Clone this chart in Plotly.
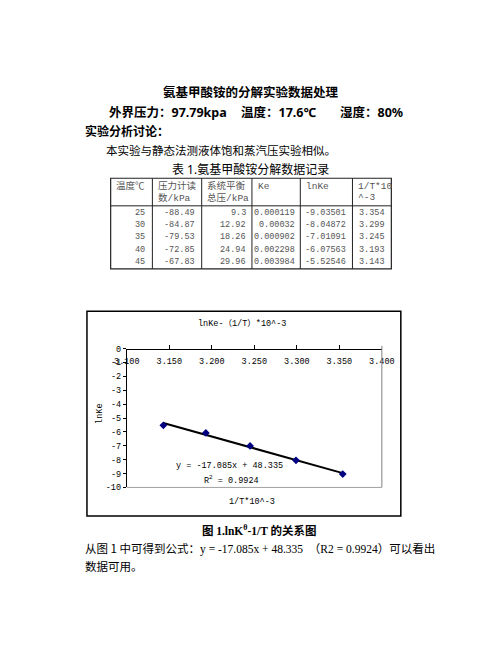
import plotly.graph_objects as go

W, H = 502, 649

# ---------------- data ----------------
temps_c = [25, 30, 35, 40, 45]
gauge_kpa = [-88.49, -84.87, -79.53, -72.85, -67.83]
total_kpa = [9.3, 12.92, 18.26, 24.94, 29.96]
ke = [0.000119, 0.00032, 0.000902, 0.002298, 0.003984]
ln_ke = [-9.03501, -8.04872, -7.01091, -6.07563, -5.52546]
inv_t = [3.354, 3.299, 3.245, 3.193, 3.143]
table_headers = [["温度℃"], ["压力计读", "数/kPa"], ["系统平衡", "总压/kPa"], ["Ke"], ["lnKe"], ["1/T*10", "^-3"]]
fit_slope = -17.085
fit_intercept = 48.335
fit_r2 = 0.9924
x_tick_vals = [3.100, 3.150, 3.200, 3.250, 3.300, 3.350, 3.400]
x_tick_text = ["3.100", "3.150", "3.200", "3.250", "3.300", "3.350", "3.400"]
y_tick_vals = [0, -1, -2, -3, -4, -5, -6, -7, -8, -9, -10]
y_tick_text = ["0", "-1", "-2", "-3", "-4", "-5", "-6", "-7", "-8", "-9", "-10"]


def px(x):
    return x / W


def py(y):
    return 1 - y / H


CJK = "Noto Sans, Noto Sans CJK SC"
CJKONLY = "Noto Sans CJK SC"
MONO = "Liberation Mono, Noto Sans CJK SC"

fig = go.Figure()

# ---------------- chart ----------------
fig.add_trace(go.Scatter(
    x=[min(inv_t), max(inv_t)],
    y=[fit_slope * min(inv_t) + fit_intercept, fit_slope * max(inv_t) + fit_intercept],
    mode="lines", line=dict(color="black", width=2), showlegend=False, hoverinfo="skip"))
fig.add_trace(go.Scatter(
    x=inv_t, y=ln_ke, mode="markers",
    marker=dict(symbol="diamond", size=6, color="#000080"), showlegend=False))

plot_l, plot_r, plot_t, plot_b = 120, 389, 350, 491

fig.update_layout(
    width=W, height=H, margin=dict(l=0, r=0, t=0, b=0),
    paper_bgcolor="white", plot_bgcolor="white",
    showlegend=False,
    xaxis=dict(domain=[px(plot_l), px(plot_r)], range=[3.1, 3.4], side="bottom",
               anchor="free", position=py(plot_t),
               tickvals=x_tick_vals, ticktext=x_tick_text,
               ticks="inside", ticklen=4, tickcolor="black",
               ticklabelstandoff=4,
               showline=True, linecolor="black", linewidth=1, showgrid=False, zeroline=False,
               tickfont=dict(family=MONO, size=8.5, color="black"), fixedrange=True),
    yaxis=dict(domain=[py(plot_b), py(plot_t)], range=[-10, 0],
               tickvals=y_tick_vals, ticktext=y_tick_text,
               ticks="outside", ticklen=3, tickcolor="black",
               showline=True, linecolor="black", linewidth=1, showgrid=False, zeroline=False,
               tickfont=dict(family=MONO, size=8.5, color="black"), anchor="x", fixedrange=True),
)

shapes = []
# chart outer box
shapes.append(dict(type="rect", xref="paper", yref="paper", x0=px(78), x1=px(409), y0=py(520), y1=py(312),
                   line=dict(color="black", width=1.5)))
# plot area right / bottom borders (grey)
shapes.append(dict(type="line", xref="x domain", yref="y domain", x0=1, x1=1, y0=0, y1=1.02,
                   line=dict(color="#808080", width=1)))
shapes.append(dict(type="line", xref="x domain", yref="y domain", x0=0, x1=1, y0=0, y1=0,
                   line=dict(color="#a0a0a0", width=1)))

ann = []


def text(x, y, s, size=12, family=CJK, anchor="left", color="black", **kw):
    ann.append(dict(x=px(x), y=py(y), xref="paper", yref="paper", text=s, showarrow=False,
                    xanchor=anchor, yanchor="middle", font=dict(family=family, size=size, color=color), **kw))


# chart texts
text(242, 324, "lnKe-（1/T）*10^-3", size=8.5, family=MONO, anchor="center")
text(252, 506, "1/T*10^-3", size=8.5, family=MONO, anchor="center")
text(91, 416, "lnKe", size=8.5, family=MONO, anchor="center", textangle=-90)
text(228, 469, "y = %.3fx + %.3f" % (fit_slope, fit_intercept), size=8.5, family=MONO, anchor="center")
text(230, 483, "R<sup>2</sup> = %.4f" % fit_r2, size=8.5, family=MONO, anchor="center")

# ---------------- document text ----------------
text(251, 90, "<b>氨基甲酸铵的分解实验数据处理</b>", size=12.5, anchor="center")
text(99, 110, "<b>外界压力：97.79kpa</b>", size=12.5)
text(238, 110, "<b>温度：17.6℃</b>", size=12.5)
text(343, 110, "<b>湿度：80%</b>", size=12.5)
text(74, 129, "<b>实验分析讨论：</b>", size=12)
text(96, 149, "本实验与静态法测液体饱和蒸汽压实验相似。", size=11.5)
text(250, 168, "表 1.氨基甲酸铵分解数据记录", size=12, anchor="center")

text(197, 534, "<b>图 <span style='font-family:Liberation Serif'>1.lnK<sup>θ</sup>-1/T</span> 的关系图</b>",
     size=11.5, family=CJKONLY)
text(74, 553, "从图 1 中可得到公式：<span style='font-family:Liberation Serif'>y = -17.085x + 48.335  </span>"
     "（<span style='font-family:Liberation Serif'>R2 = 0.9924</span>）可以看出", size=11.5, family=CJKONLY)
text(74, 571, "数据可用。", size=11.5, family=CJKONLY)

# ---------------- table ----------------
col_edges = [103, 147, 199, 252, 303, 358, 399]
tab_top, head_bot, tab_bot = 177, 205, 269
line_col = "#222222"
shapes.append(dict(type="rect", xref="paper", yref="paper", x0=px(col_edges[0]), x1=px(col_edges[-1]),
                   y0=py(tab_bot), y1=py(tab_top), line=dict(color=line_col, width=1.2)))
for e in col_edges[1:-1]:
    shapes.append(dict(type="line", xref="paper", yref="paper", x0=px(e), x1=px(e),
                       y0=py(tab_bot), y1=py(tab_top), line=dict(color=line_col, width=1)))
shapes.append(dict(type="line", xref="paper", yref="paper", x0=px(col_edges[0]), x1=px(col_edges[-1]),
                   y0=py(head_bot), y1=py(head_bot), line=dict(color=line_col, width=1)))

tcol = "#555555"
head_lines_y = [185, 197]
for i, hdr in enumerate(table_headers):
    for j, h in enumerate(hdr):
        text(col_edges[i] + 4, head_lines_y[j], h, size=9.5, family=MONO, color=tcol)

right_x = [141, 194, 248, 299, 353, 394]
row_y = [212, 224.5, 237, 249.5, 262]
columns = [temps_c, gauge_kpa, total_kpa, ke, ln_ke, inv_t]
for ci, col in enumerate(columns):
    for ri, v in enumerate(col):
        text(right_x[ci], row_y[ri], str(v), size=8.5, family=MONO, anchor="right", color=tcol)

fig.update_layout(shapes=shapes, annotations=ann)
fig.write_html("out.html", config={"displayModeBar": False},
               post_script="document.body.style.margin='0';document.body.style.overflow='hidden';")
